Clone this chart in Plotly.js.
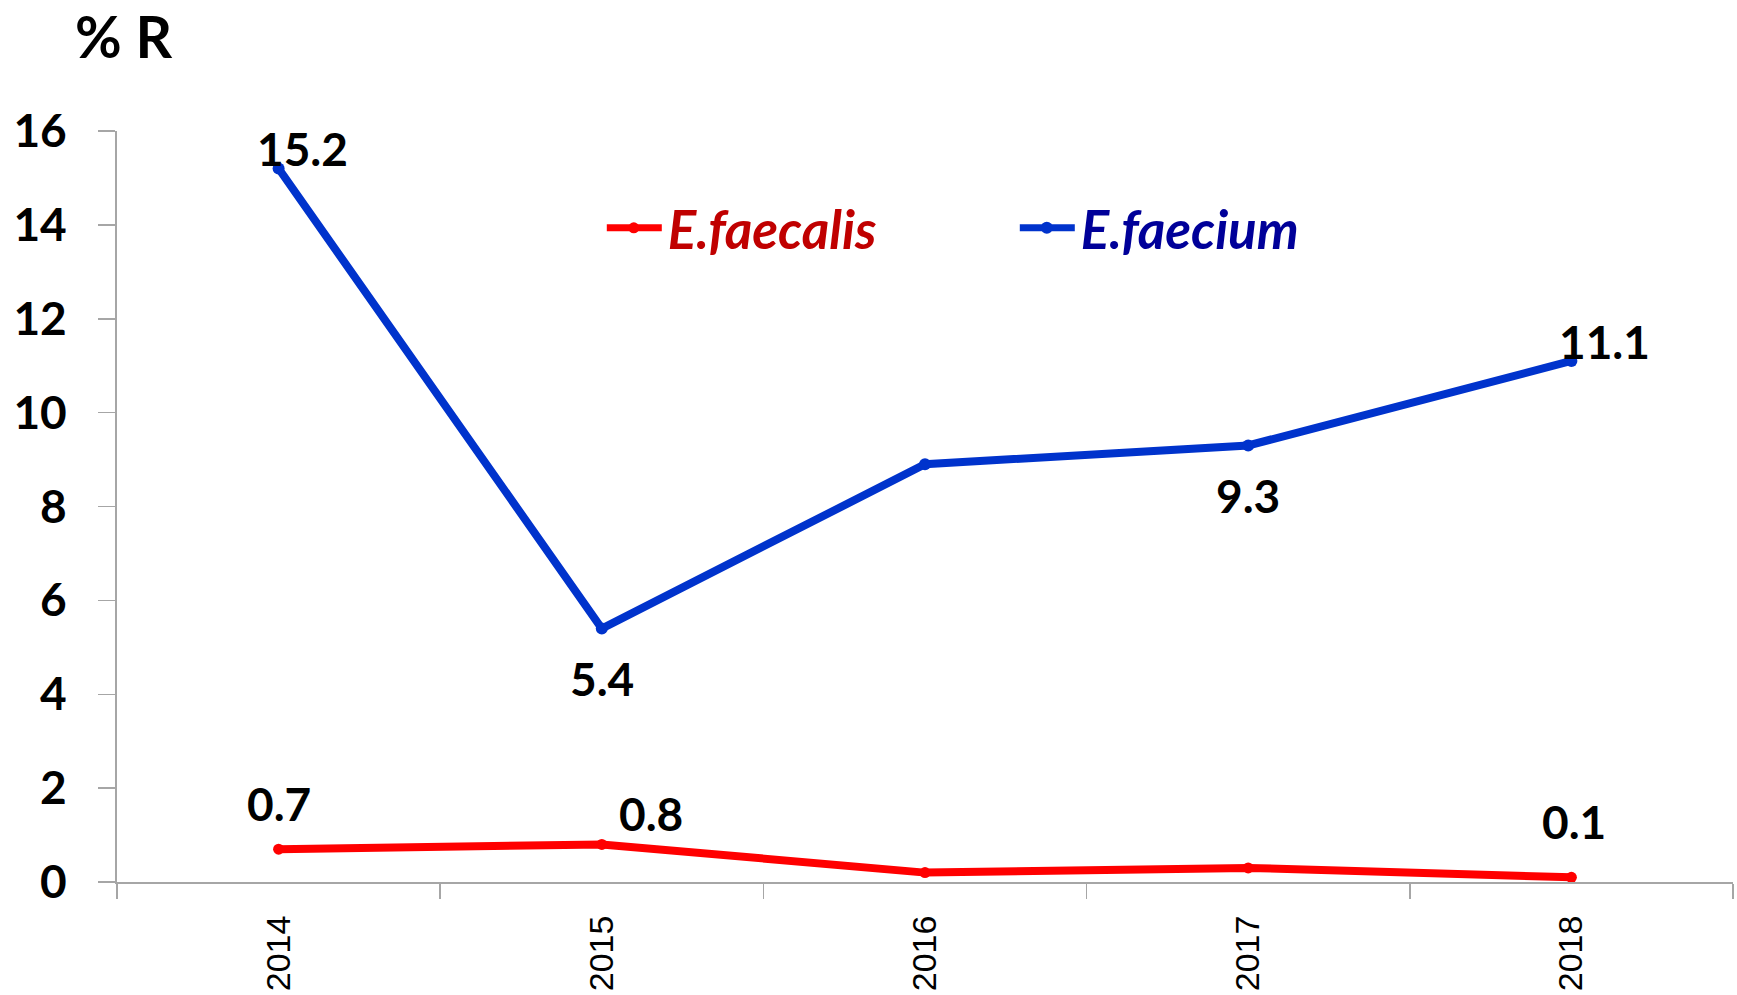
<!DOCTYPE html>
<html>
<head>
<meta charset="utf-8">
<script src="https://cdn.plot.ly/plotly-3.0.1.min.js"></script>
<style>html,body{margin:0;padding:0;background:#fff;}#chart{width:1737px;height:995px;}</style>
</head>
<body>
<div id="chart"></div>
<script>
const years = ['2014', '2015', '2016', '2017', '2018'];
const faecalis = [0.7, 0.8, 0.2, 0.3, 0.1];
const faecium = [15.2, 5.4, 8.9, 9.3, 11.1];
const faecalisLabels = ['0.7', '0.8', '', '', '0.1'];
const faeciumLabels = ['15.2', '5.4', '', '9.3', '11.1'];
const seriesNames = ['E.faecalis', 'E.faecium'];
const yAxisLabel = '% R';

// label offsets (px) relative to the point
const faecalisShift = [[0, 46], [49, 31], [0, 0], [0, 0], [3, 56]];
const faeciumShift = [[24, 20], [0, -50], [0, 0], [0, -50], [33, 19]];

const annotations = [];
function addLabels(vals, labels, shifts) {
  vals.forEach((v, i) => {
    if (!labels[i]) return;
    annotations.push({
      x: i, y: v, xref: 'x', yref: 'y', text: '<b>' + labels[i] + '</b>',
      showarrow: false, xanchor: 'center', yanchor: 'middle',
      xshift: shifts[i][0], yshift: shifts[i][1],
      font: {family: 'Lato, "Open Sans", sans-serif', size: 46, color: '#000'}
    });
  });
}
addLabels(faecalis, faecalisLabels, faecalisShift);
addLabels(faecium, faeciumLabels, faeciumShift);
annotations.push({
  xref: 'paper', yref: 'paper', x: -0.027, y: 1.127, xanchor: 'left', yanchor: 'middle',
  text: '<b>' + yAxisLabel + '</b>', showarrow: false,
  font: {family: 'Lato, "Open Sans", sans-serif', size: 57, color: '#000'}
});

const traces = [
  {
    x: years, y: faecalis, name: '<b><i>' + seriesNames[0] + '</i></b>', type: 'scatter', mode: 'lines+markers',
    line: {color: '#FF0000', width: 8}, marker: {color: '#FF0000', size: 11, symbol: 'circle'},
    cliponaxis: false
  },
  {
    x: years, y: faecium, name: '<b><i>' + seriesNames[1] + '</i></b>', type: 'scatter', mode: 'lines+markers',
    line: {color: '#0033CC', width: 8}, marker: {color: '#0033CC', size: 12, symbol: 'circle'},
    cliponaxis: false
  }
];

const layout = {
  width: 1737, height: 995,
  margin: {l: 117, r: 4, t: 131, b: 113},
  paper_bgcolor: '#fff', plot_bgcolor: '#fff',
  showlegend: true,
  legend: {
    orientation: 'h', x: 0.30, y: 0.871, xanchor: 'left', yanchor: 'middle',
    entrywidth: 368, entrywidthmode: 'pixels',
    font: {family: 'Lato, "Open Sans", sans-serif', size: 53},
    bgcolor: 'rgba(0,0,0,0)', itemclick: false
  },
  xaxis: {
    type: 'category', range: [-0.5, 4.5], showgrid: false, zeroline: false,
    showline: true, linecolor: '#A6A6A6', linewidth: 2,
    ticks: 'outside', tickson: 'boundaries', ticklen: 15, tickwidth: 1.5, tickcolor: '#A6A6A6',
    tickangle: -90, ticklabelstandoff: 18,
    tickfont: {family: '"Liberation Sans", Arial, sans-serif', size: 34, color: '#000'}
  },
  yaxis: {
    range: [0, 16], dtick: 2, tick0: 0, showgrid: false, zeroline: false,
    showline: true, linecolor: '#A6A6A6', linewidth: 2,
    ticks: 'outside', ticklen: 17, tickwidth: 1.5, tickcolor: '#A6A6A6',
    ticklabelstandoff: 22,
    tickfont: {family: 'Lato, "Open Sans", sans-serif', size: 46, color: '#000', weight: 'bold'}
  },
  annotations: annotations
};

Plotly.newPlot('chart', traces, layout, {displayModeBar: false, staticPlot: true}).then(() => {
  const cols = ['#C00000', '#000099'];
  document.querySelectorAll('.legend .traces').forEach((g, i) => {
    const t = g.querySelector('.legendtext');
    if (t) { t.style.fill = cols[i]; t.setAttribute('x', 66); }
    const lp = g.querySelector('.legendlines path');
    if (lp) { lp.setAttribute('d', 'M5,0h55'); lp.style.strokeWidth = '7px'; }
    const sp = g.querySelector('.legendsymbols .legendpoints path');
    if (sp) { sp.setAttribute('transform', 'translate(32,0)'); }
  });
});
</script>
</body>
</html>
